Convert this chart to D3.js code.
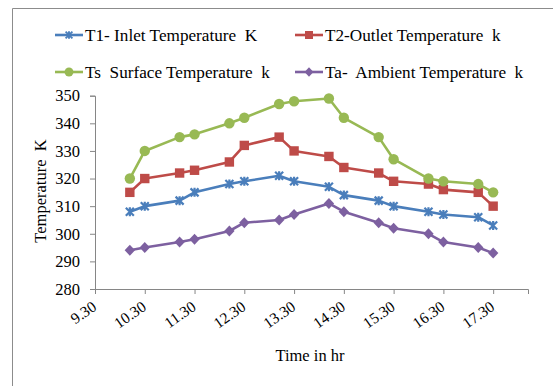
<!DOCTYPE html>
<html>
<head>
<meta charset="utf-8">
<script src="https://cdn.jsdelivr.net/npm/d3@7"></script>
<style>
  html, body { margin: 0; padding: 0; background: #fff; }
  svg.vis { display: block; }
  svg.vis text { white-space: pre; }
</style>
</head>
<body>
<svg class="vis" width="553" height="386"></svg>
<script>

// time of day written as hh.mm decimals, the way the sheet had them
const times = [10.0, 10.3, 11.0, 11.3, 12.0, 12.3, 13.0, 13.3, 14.0, 14.3, 15.0, 15.3, 16.0, 16.3, 17.0, 17.3];

const t1_inlet   = [308, 310, 312, 315, 318, 319, 321, 319, 317, 314, 312, 310, 308, 307, 306, 303];
const t2_outlet  = [315, 320, 322, 323, 326, 332, 335, 330, 328, 324, 322, 319, 318, 316, 315, 310];
const ts_surface = [320, 330, 335, 336, 340, 342, 347, 348, 349, 342, 335, 327, 320, 319, 318, 315];
const ta_ambient = [294, 295, 297, 298, 301, 304, 305, 307, 311, 308, 304, 302, 300, 297, 295, 293];

const x_ticks = [9.3, 10.3, 11.3, 12.3, 13.3, 14.3, 15.3, 16.3, 17.3];
const y_ticks = [280, 290, 300, 310, 320, 330, 340, 350];

const series_names = [
    "T1- Inlet Temperature  K",
    "T2-Outlet Temperature  k",
    "Ts  Surface Temperature  k",
    "Ta-  Ambient Temperature  k"
];

const FONT = "Liberation Serif";

const vis = {

    sels: { svg: null },

    dims: {
        left: 95,
        right: 528,
        top: 95.7,
        bottom: 289
    },

    series: [
        { name: series_names[0], values: t1_inlet,   color: "#4a7ebb", marker: "star" },
        { name: series_names[1], values: t2_outlet,  color: "#be4b48", marker: "square" },
        { name: series_names[2], values: ts_surface, color: "#98b954", marker: "circle" },
        { name: series_names[3], values: ta_ambient, color: "#7d60a0", marker: "diamond" }
    ],

    scales: {
        x: d3.scaleLinear(),
        y: d3.scaleLinear()
    },

    init: function() {
        vis.sels.svg = d3.select("svg.vis");
        vis.scales.x.domain([9.3, 18.0]).range([vis.dims.left, vis.dims.right]);
        vis.scales.y.domain([280, 350]).range([vis.dims.bottom, vis.dims.top]);

        vis.draw.frame();
        vis.draw.axes();
        vis.draw.lines();
        vis.draw.legend();
    },

    // one marker shape per series, centred on 0,0
    marker: function(g, type, color) {
        if (type === "square") {
            g.append("rect").attr("x", -4.7).attr("y", -4.7).attr("width", 9.4).attr("height", 9.4)
              .attr("fill", color);
        } else if (type === "circle") {
            g.append("circle").attr("r", 5.2).attr("fill", color);
        } else if (type === "diamond") {
            g.append("path").attr("d", "M0,-5.5L5.2,0L0,5.5L-5.2,0Z").attr("fill", color);
        } else {
            g.append("path")
              .attr("d", "M-4,-4L4,4M-4,4L4,-4M0,-4.5L0,4.5")
              .attr("stroke", color).attr("stroke-width", 2.2).attr("fill", "none");
        }
    },

    draw: {

        frame: function() {
            vis.sels.svg.append("path")
              .attr("d", "M12.5,386V8.5H553")
              .attr("fill", "none")
              .attr("stroke", "#8c8c8c")
              .attr("stroke-width", 1);
        },

        axes: function() {
            let svg = vis.sels.svg;

            let yAxis = svg.append("g")
              .attr("transform", `translate(${vis.dims.left},0)`)
              .call(d3.axisLeft(vis.scales.y).tickValues(y_ticks).tickSize(5).tickPadding(10));

            yAxis.attr("font-family", FONT).attr("font-size", 16.5);
            yAxis.selectAll("text").attr("fill", "#000");

            let xAxis = svg.append("g")
              .attr("transform", `translate(0,${vis.dims.bottom})`)
              .call(d3.axisBottom(vis.scales.x).tickValues(x_ticks).tickSize(5)
                .tickFormat(d3.format(".2f")));

            xAxis.attr("font-family", FONT).attr("font-size", 15.5);
            xAxis.selectAll("text")
              .attr("fill", "#000")
              .attr("text-anchor", "end")
              .attr("dy", 0)
              .attr("transform", "translate(2,20) rotate(-35)")
              .attr("y", 0).attr("x", 0);

            [yAxis, xAxis].forEach(a => {
                a.select(".domain").attr("stroke", "#868686");
                a.selectAll(".tick line").attr("stroke", "#868686");
            });

            svg.append("text")
              .attr("x", 310).attr("y", 361)
              .attr("text-anchor", "middle")
              .attr("font-family", FONT)
              .attr("font-size", 16.5)
              .text("Time in hr");

            svg.append("text")
              .attr("transform", "translate(46,191) rotate(-90)")
              .attr("text-anchor", "middle")
              .attr("font-family", FONT)
              .attr("font-size", 16.5)
              .text("Temperature  K");
        },

        lines: function() {
            let svg = vis.sels.svg;
            let line = d3.line()
              .x((d, i) => vis.scales.x(times[i]))
              .y(d => vis.scales.y(d));

            vis.series.forEach(s => {
                svg.append("path")
                  .attr("d", line(s.values))
                  .attr("fill", "none")
                  .attr("stroke", s.color)
                  .attr("stroke-width", 2.6)
                  .attr("stroke-linejoin", "round");

                svg.append("g").selectAll("g")
                  .data(s.values)
                  .join("g")
                  .attr("transform", (d, i) => `translate(${vis.scales.x(times[i])},${vis.scales.y(d)})`)
                  .each(function() { vis.marker(d3.select(this), s.marker, s.color); });
            });
        },

        legend: function() {
            let pos = [[55, 35], [295, 35], [55, 72], [295, 72]];

            vis.series.forEach((s, i) => {
                let g = vis.sels.svg.append("g")
                  .attr("transform", `translate(${pos[i][0]},${pos[i][1]})`);

                g.append("line")
                  .attr("x1", 0).attr("x2", 28)
                  .attr("stroke", s.color).attr("stroke-width", 2.6);

                vis.marker(g.append("g").attr("transform", "translate(14,0) scale(0.85)"), s.marker, s.color);

                g.append("text")
                  .attr("x", 30).attr("y", 6)
                  .attr("font-family", FONT)
                  .attr("font-size", 17.2)
                  .text(s.name);
            });
        }
    }
};

vis.init();
</script>
</body>
</html>
